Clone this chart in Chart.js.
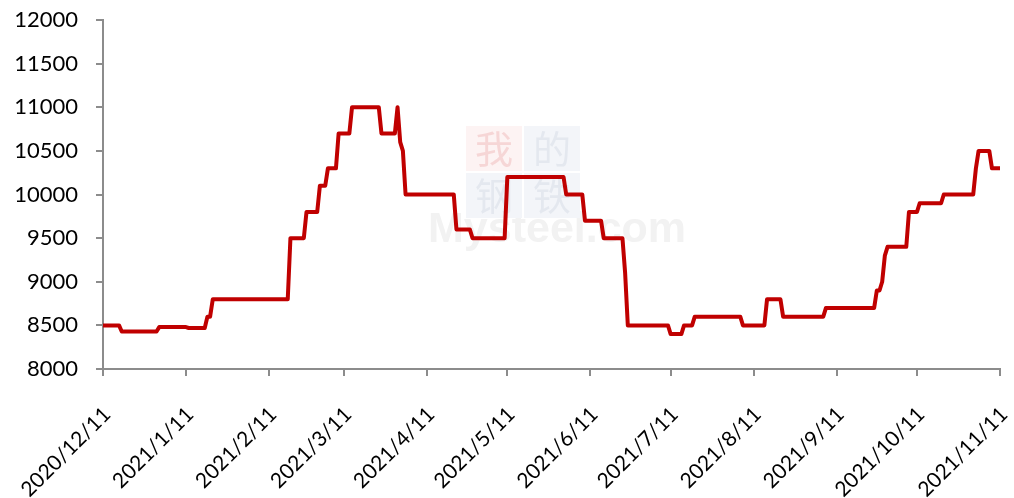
<!DOCTYPE html>
<html>
<head>
<meta charset="utf-8">
<script src="https://cdn.jsdelivr.net/npm/chart.js@4"></script>
<style>
  html, body { margin: 0; padding: 0; background: #fff; }
  #wrap { position: relative; width: 1014px; height: 498px; }
</style>
</head>
<body>
<div id="wrap"><canvas id="price-chart"></canvas></div>
<script>
// price series, change points
const dates = [
    '2020/12/11', '2020/12/17', '2020/12/18', '2020/12/31', '2021/1/1', '2021/1/11', '2021/1/12',
    '2021/1/18', '2021/1/19', '2021/1/20', '2021/1/21', '2021/2/18', '2021/2/19', '2021/2/24',
    '2021/2/25', '2021/3/1', '2021/3/2', '2021/3/4', '2021/3/5', '2021/3/8', '2021/3/9',
    '2021/3/13', '2021/3/14', '2021/3/24', '2021/3/25', '2021/3/30', '2021/3/31', '2021/4/1',
    '2021/4/2', '2021/4/3', '2021/4/21', '2021/4/22', '2021/4/27', '2021/4/28', '2021/5/10',
    '2021/5/11', '2021/6/1', '2021/6/2', '2021/6/8', '2021/6/9', '2021/6/15', '2021/6/16',
    '2021/6/23', '2021/6/24', '2021/6/25', '2021/7/10', '2021/7/11', '2021/7/15', '2021/7/16',
    '2021/7/19', '2021/7/20', '2021/8/6', '2021/8/7', '2021/8/15', '2021/8/16', '2021/8/21',
    '2021/8/22', '2021/9/6', '2021/9/7', '2021/9/25', '2021/9/26', '2021/9/27', '2021/9/28',
    '2021/9/29', '2021/9/30', '2021/10/7', '2021/10/8', '2021/10/11', '2021/10/12', '2021/10/20',
    '2021/10/21', '2021/11/1', '2021/11/2', '2021/11/3', '2021/11/7', '2021/11/8', '2021/11/11'
];
const prices = [
    8500, 8500, 8430, 8430, 8480, 8480, 8470,
    8470, 8600, 8600, 8800, 8800, 9500, 9500,
    9800, 9800, 10100, 10100, 10300, 10300, 10700,
    10700, 11000, 11000, 10700, 10700, 11000, 10600,
    10500, 10000, 10000, 9600, 9600, 9500, 9500,
    10200, 10200, 10000, 10000, 9700, 9700, 9500,
    9500, 9100, 8500, 8500, 8400, 8400, 8500,
    8500, 8600, 8600, 8500, 8500, 8800, 8800,
    8600, 8600, 8700, 8700, 8900, 8900, 9000,
    9300, 9400, 9400, 9800, 9800, 9900, 9900,
    10000, 10000, 10300, 10500, 10500, 10300, 10300
];
const tickDates = [
    '2020/12/11', '2021/1/11', '2021/2/11', '2021/3/11', '2021/4/11', '2021/5/11',
    '2021/6/11', '2021/7/11', '2021/8/11', '2021/9/11', '2021/10/11', '2021/11/11'
];
const yMin = 8000;
const yMax = 12000;
const yStep = 500;

const dayOf = (s) => {
    const [y, m, d] = s.split('/').map(Number);
    const base = Date.UTC(2020, 11, 11);
    return Math.round((Date.UTC(y, m - 1, d) - base) / 86400000);
};

const tickLabelByDay = {};
tickDates.forEach(d => { tickLabelByDay[dayOf(d)] = d; });

// faint Mysteel watermark behind the line
const watermark = {
    id: 'watermark',
    beforeDatasetsDraw(chart) {
        const ctx = chart.ctx;
        ctx.save();
        ctx.fillStyle = '#f2f2f2';
        ctx.font = 'bold 43px "Liberation Sans", Arial, sans-serif';
        ctx.textBaseline = 'alphabetic';
        ctx.fillText('Mysteel.com', 428, 242);
        const boxes = [
            ['我', 466, 126, '#fdf3f3', '#f6d6d6'],
            ['的', 524, 126, '#f3f5f9', '#e4e8ef'],
            ['钢', 466, 173, '#f3f5f9', '#e4e8ef'],
            ['铁', 524, 173, '#f3f5f9', '#e4e8ef']
        ];
        ctx.font = '38px "Noto Sans CJK SC", sans-serif';
        ctx.textAlign = 'center';
        ctx.textBaseline = 'middle';
        boxes.forEach(([ch, x, y, bg, fg]) => {
            ctx.fillStyle = bg;
            ctx.fillRect(x, y, 56, 45);
            ctx.fillStyle = fg;
            ctx.fillText(ch, x + 28, y + 23);
        });
        ctx.restore();
    }
};

const axisGrey = '#8c8c8c';
const yFont = { family: 'Lato, "Open Sans", sans-serif', size: 22 };
const xFont = { family: 'Lato, "Open Sans", sans-serif', size: 21 };

new Chart(document.getElementById('price-chart').getContext('2d'), {
    type: 'line',
    data: {
        datasets: [{
            data: dates.map((d, i) => ({ x: dayOf(d), y: prices[i] })),
            borderColor: '#c00000',
            borderWidth: 4,
            borderJoinStyle: 'round',
            pointRadius: 0,
            tension: 0,
            fill: false
        }]
    },
    options: {
        responsive: true,
        maintainAspectRatio: false,
        animation: false,
        layout: { padding: { left: 0, right: 14, top: 20, bottom: 0 } },
        plugins: { legend: { display: false }, tooltip: { enabled: false } },
        scales: {
            x: {
                type: 'linear',
                min: dayOf(tickDates[0]),
                max: dayOf(tickDates[tickDates.length - 1]),
                afterBuildTicks(scale) {
                    scale.ticks = tickDates.map(d => ({ value: dayOf(d) }));
                },
                afterFit(scale) {
                    scale.height = 129;
                    scale.paddingLeft = 0;
                    scale.paddingRight = 0;
                },
                grid: { drawOnChartArea: false, drawTicks: true, tickLength: 7, color: axisGrey, lineWidth: 2 },
                border: { color: axisGrey, width: 2 },
                ticks: {
                    autoSkip: false,
                    minRotation: 45,
                    maxRotation: 45,
                    padding: 26,
                    labelOffset: 4,
                    color: '#000',
                    font: xFont,
                    callback: (v) => tickLabelByDay[v] || ''
                }
            },
            y: {
                min: yMin,
                max: yMax,
                afterFit(scale) {
                    scale.width = 103;
                    scale.paddingTop = 0;
                    scale.paddingBottom = 0;
                },
                grid: { drawOnChartArea: false, drawTicks: true, tickLength: 7, color: axisGrey, lineWidth: 2 },
                border: { color: axisGrey, width: 2 },
                ticks: {
                    stepSize: yStep,
                    padding: 18,
                    color: '#000',
                    font: yFont,
                    callback: (v) => String(v)
                }
            }
        }
    },
    plugins: [watermark]
});
</script>
</body>
</html>
